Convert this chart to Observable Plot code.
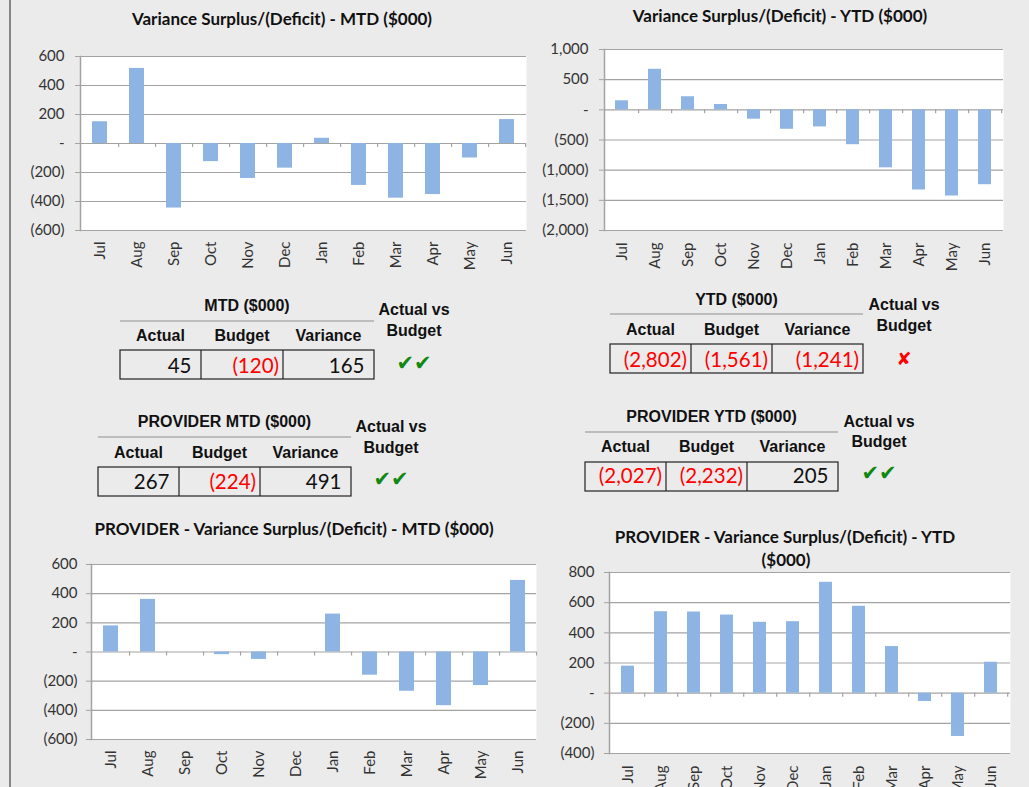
<!DOCTYPE html>
<html><head><meta charset="utf-8">
<script src="https://cdn.jsdelivr.net/npm/d3@7"></script>
<script src="https://cdn.jsdelivr.net/npm/@observablehq/plot@0.6"></script>
<style>
body{margin:0;background:#ebebeb;}
#page{position:relative;width:1029px;height:787px;overflow:hidden;background:#ebebeb;}
.chart{position:absolute;}
#overlay{position:absolute;left:0;top:0;}
</style></head><body><div id="page"></div>
<script>
// ---------- data ----------
const months = ["Jul","Aug","Sep","Oct","Nov","Dec","Jan","Feb","Mar","Apr","May","Jun"];
const mtdVariance = [150, 518, -445, -125, -241, -170, 36, -289, -377, -352, -100, 165];
const ytdVariance = [150, 672, 217, 89, -155, -322, -283, -578, -961, -1328, -1428, -1241];
const providerMtdVariance = [179, 361, 0, -18, -51, 0, 260, -159, -269, -368, -230, 491];
const providerYtdVariance = [179, 540, 538, 518, 470, 474, 735, 576, 309, -55, -287, 205];
const mtdTicks = [-600, -400, -200, 0, 200, 400, 600];
const ytdTicks = [-2000, -1500, -1000, -500, 0, 500, 1000];
const providerMtdTicks = [-600, -400, -200, 0, 200, 400, 600];
const providerYtdTicks = [-400, -200, 0, 200, 400, 600, 800];

const chartTitles = [
  "Variance Surplus/(Deficit) - MTD ($000)",
  "Variance Surplus/(Deficit) - YTD ($000)",
  "PROVIDER - Variance Surplus/(Deficit) - MTD ($000)",
  "PROVIDER - Variance Surplus/(Deficit) - YTD",
  "($000)"
];
const tableHeaders = ["Actual", "Budget", "Variance"];
const tableTitles = ["MTD ($000)", "YTD ($000)", "PROVIDER MTD ($000)", "PROVIDER YTD ($000)"];
const mtdTable = [45, -120, 165];
const ytdTable = [-2802, -1561, -1241];
const providerMtdTable = [267, -224, 491];
const providerYtdTable = [-2027, -2232, 205];
const statusLabel = ["Actual vs", "Budget"];
const statusMarks = ["\u2714\u2714", "\u2718", "\u2714\u2714", "\u2714\u2714"];

// ---------- helpers ----------
const num = d3.format(",");
const acct = v => v === 0 ? "-" : v < 0 ? "(" + num(-v) + ")" : num(v);

const page = document.getElementById("page");
const GRID = "#a3a3a3";
const BAR = "#8db4e2";

function chart(values, ticks, o) {
  const data = months.map((m, i) => ({m, v: values[i]}));
  const step = (o.width - o.ml - o.mr) / months.length;
  const svg = Plot.plot({
    width: o.width, height: o.height,
    marginTop: o.mt, marginRight: o.mr, marginBottom: o.mb, marginLeft: o.ml,
    style: {background: "transparent", fontFamily: "Lato, sans-serif", fontSize: "15px", color: "#333", overflow: "visible"},
    x: {domain: months, paddingInner: 0.6, paddingOuter: 0.3, label: null},
    y: {domain: [ticks[0], ticks[ticks.length - 1]], label: null},
    marks: [
      Plot.frame({fill: "white", stroke: "none"}),
      Plot.gridY({ticks, stroke: GRID, strokeOpacity: 1, strokeWidth: 1.2}),
      Plot.barY(data, {x: "m", y: "v", fill: BAR}),
      Plot.ruleX(months, {x: d => d, y1: 0, y2: 0, dx: step / 2, insetBottom: -4, stroke: GRID, strokeWidth: 1.2}),
      Plot.frame({anchor: "left", stroke: GRID, strokeWidth: 1.5}),
      Plot.axisY({ticks, tickFormat: acct, tickSize: 5, tickPadding: o.yPad, stroke: GRID, fill: "#333"}),
      Plot.axisX({tickRotate: -90, tickSize: 0, tickPadding: o.xPad, fill: "#333"})
    ]
  });
  svg.classList.add("chart");
  svg.style.left = o.left + "px";
  svg.style.top = o.top + "px";
  page.appendChild(svg);
}

chart(mtdVariance, mtdTicks, {left: 0, top: 0, width: 530, height: 280, mt: 56, mr: 4, mb: 50, ml: 80, yPad: 11, xPad: 11});
chart(ytdVariance, ytdTicks, {left: 530, top: 0, width: 499, height: 280, mt: 49, mr: 26, mb: 50, ml: 74, yPad: 11, xPad: 12});
chart(providerMtdVariance, providerMtdTicks, {left: 0, top: 510, width: 540, height: 277, mt: 54, mr: 4, mb: 48, ml: 91, yPad: 9, xPad: 11});
chart(providerYtdVariance, providerYtdTicks, {left: 530, top: 510, width: 499, height: 277, mt: 62, mr: 19, mb: 34, ml: 79, yPad: 10, xPad: 12});

// ---------- overlay: titles, tables ----------
const ov = d3.select(page).append("svg").attr("id", "overlay").attr("width", 1029).attr("height", 787);
ov.append("line").attr("x1", 10).attr("x2", 10).attr("y1", 0).attr("y2", 787).attr("stroke", "#666").attr("stroke-width", 1.5);

const titleStyle = s => s.attr("font-family", "Lato, sans-serif").attr("font-weight", "bold").attr("font-size", 17).attr("fill", "#111").attr("text-anchor", "middle");
[[chartTitles[0], 282, 25], [chartTitles[1], 780, 22], [chartTitles[2], 294, 535], [chartTitles[3], 785, 543], [chartTitles[4], 786, 566]]
  .forEach(([t, x, y]) => ov.append("text").attr("x", x).attr("y", y).text(t).call(titleStyle));

function table(title, values, mark, L) {
  const g = ov.append("g");
  const hs = s => s.attr("font-family", "'Liberation Sans', Arial, sans-serif").attr("font-weight", "bold").attr("font-size", 16).attr("fill", "#111").attr("text-anchor", "middle");
  const xs = L.cells;
  g.append("text").attr("x", (xs[0] + xs[3]) / 2).attr("y", L.titleY).text(title).call(hs);
  g.append("line").attr("x1", xs[0]).attr("x2", xs[3]).attr("y1", L.lineY).attr("y2", L.lineY).attr("stroke", "#bdbdbd").attr("stroke-width", 2);
  tableHeaders.forEach((h, i) => g.append("text").attr("x", (xs[i] + xs[i + 1]) / 2).attr("y", L.headerY).text(h).call(hs));
  g.append("rect").attr("x", xs[0]).attr("y", L.boxTop).attr("width", xs[3] - xs[0]).attr("height", L.boxBottom - L.boxTop)
    .attr("fill", "none").attr("stroke", "#222").attr("stroke-width", 1.2);
  [1, 2].forEach(i => g.append("line").attr("x1", xs[i]).attr("x2", xs[i]).attr("y1", L.boxTop).attr("y2", L.boxBottom).attr("stroke", "#222").attr("stroke-width", 1.2));
  values.forEach((v, i) => {
    const t = g.append("text").attr("x", xs[i + 1] - 4).attr("y", L.valueY)
      .attr("font-family", "Lato, sans-serif").attr("font-size", 20.5).attr("text-anchor", "end")
      .attr("fill", v < 0 ? "#ff0000" : "#111");
    t.append("tspan").text(acct(v));
    if (v >= 0) t.append("tspan").attr("fill", "transparent").text(")");
  });
  statusLabel.forEach((s, i) => g.append("text").attr("x", L.avX).attr("y", L.avY[i]).text(s).call(hs));
  g.append("text").attr("x", L.avX).attr("y", L.markY).attr("text-anchor", "middle")
    .attr("dominant-baseline", "central")
    .attr("font-family", "'DejaVu Sans', sans-serif").attr("font-weight", "bold")
    .attr("font-size", mark === "\u2718" ? 18 : 21)
    .attr("fill", mark === "\u2718" ? "#ff0000" : "#118811").text(mark);
}

table(tableTitles[0], mtdTable, statusMarks[0], {cells: [120, 201, 283, 374], titleY: 311, lineY: 321, headerY: 341, boxTop: 350, boxBottom: 379, valueY: 373, avX: 414, avY: [315, 336], markY: 363});
table(tableTitles[1], ytdTable, statusMarks[1], {cells: [610, 691, 772, 863], titleY: 305, lineY: 314, headerY: 335, boxTop: 344, boxBottom: 373, valueY: 367, avX: 904, avY: [310, 331], markY: 358});
table(tableTitles[2], providerMtdTable, statusMarks[2], {cells: [98, 179, 260, 351], titleY: 427, lineY: 437, headerY: 458, boxTop: 467, boxBottom: 496, valueY: 489, avX: 391, avY: [432, 453], markY: 479});
table(tableTitles[3], providerYtdTable, statusMarks[3], {cells: [585, 666, 747, 838], titleY: 422, lineY: 432, headerY: 452, boxTop: 462, boxBottom: 491, valueY: 483, avX: 879, avY: [427, 447], markY: 473});
</script></body></html>
